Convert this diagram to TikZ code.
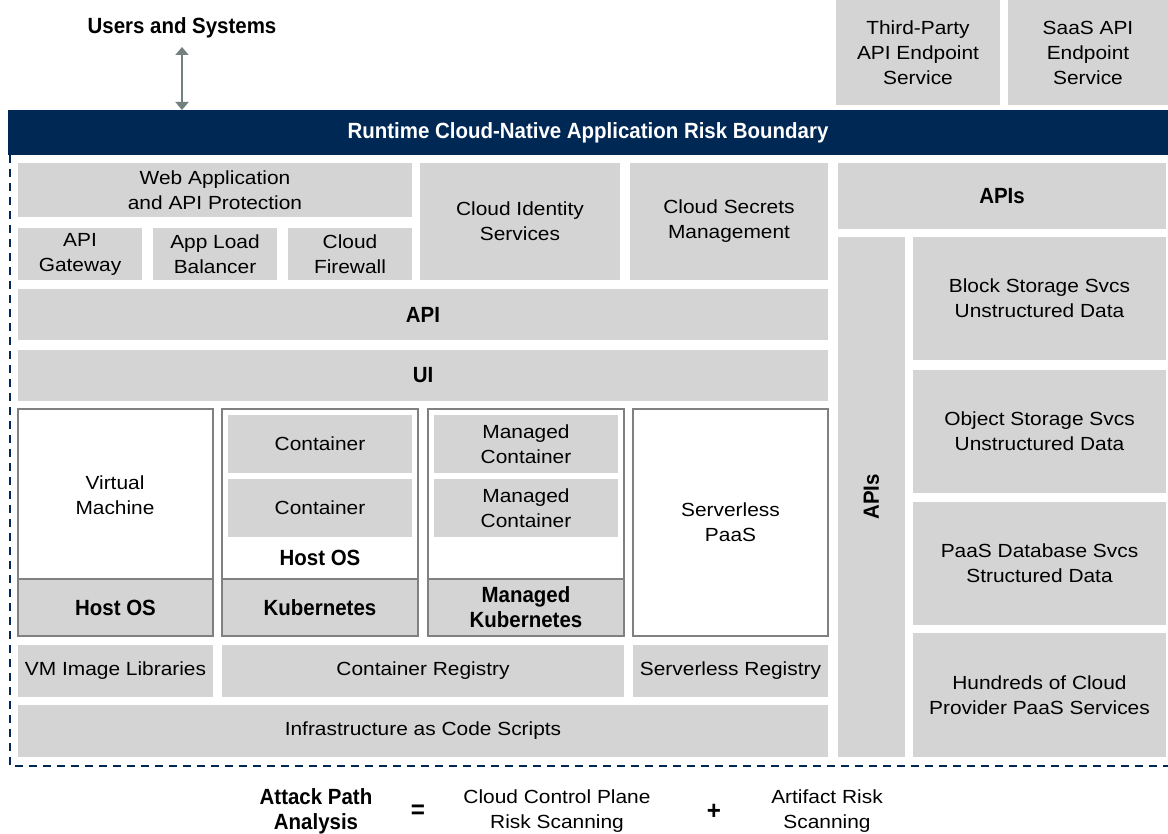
\documentclass[tikz,border=0pt]{standalone}
\usepackage{fontspec}
\setmainfont{Liberation Sans}[FakeStretch=1.1]
\newfontfamily\hvb{Liberation Sans Bold}[FakeStretch=0.93]
\usetikzlibrary{arrows.meta}
\definecolor{boxgray}{HTML}{D4D4D4}
\definecolor{navy}{HTML}{002855}
\definecolor{edgegray}{HTML}{808080}
\definecolor{arrowgray}{HTML}{748080}
\tikzset{
  box/.style={fill=boxgray,inner sep=0pt,outer sep=0pt,align=center,
    font=\fontsize{19}{25}\selectfont},
  framed/.style={draw=edgegray,line width=1.3pt},
  whitebox/.style={fill=white,draw=edgegray,line width=1.3pt},
  strong/.style={font=\hvb\fontsize{22}{25}\selectfont},
  plain/.style={inner sep=0pt,align=center,font=\fontsize{19}{25}\selectfont},
}
\newcommand\bx[7][]{\node[box,minimum width={#5-#3},minimum height={#6-#4},#1] (#2) at ({(#3+#5)/2},{(#4+#6)/2}) {#7};}
\begin{document}
\begin{tikzpicture}[x=1pt,y=-1pt]
\useasboundingbox[fill=white] (0,0) rectangle (1168,834);

% top
\node[plain,strong] (users) at (182,28) {Users and Systems};
\bx{third}{836}{0}{1000}{105}{Third-Party\\API Endpoint\\Service}
\bx{saas}{1008}{0}{1168}{105}{SaaS API\\Endpoint\\Service}

% header
\bx[fill=navy,text=white,strong]{hdr}{8}{110}{1168}{155}{Runtime Cloud-Native Application Risk Boundary}
\coordinate (arrtop) at (182,47);
\draw[arrowgray,line width=1.8pt,{Triangle[width=13pt,length=8pt]}-{Triangle[width=13pt,length=8pt]}]
  (arrtop) -- (arrtop |- hdr.north);

% boundary
\coordinate (bl) at (10,766);
\draw[navy,line width=2.4pt,dash pattern=on 8pt off 6pt]
  (hdr.south west -| bl) -- (bl) -- (bl -| hdr.east);

% upper left blocks
\bx{waap}{18}{163}{412}{217}{Web Application\\and API Protection}
\bx{gw}{18}{228}{142}{280}{API\\Gateway}
\bx{alb}{153}{228}{277}{280}{App Load\\Balancer}
\bx{fw}{288}{228}{412}{280}{Cloud\\Firewall}
\bx{ident}{420}{163}{620}{280}{Cloud Identity\\Services}
\bx{secr}{630}{163}{828}{280}{Cloud Secrets\\Management}
\bx[strong]{api}{18}{289}{828}{340}{API}
\bx[strong]{ui}{18}{350}{828}{401}{UI}

% VM group
\bx[whitebox]{vm}{18}{409}{213}{636}{}
\node[plain] (vmt) at (115,495) {Virtual\\Machine};
\bx[framed,strong]{vmhost}{18}{579}{213}{636}{Host OS}

% Kubernetes group
\bx[whitebox]{kg}{222}{409}{418}{636}{}
\bx{c1}{228}{415}{412}{473}{Container}
\bx{c2}{228}{479}{412}{537}{Container}
\node[plain,strong] (khost) at (320,558) {Host OS};
\bx[framed,strong]{kube}{222}{579}{418}{636}{Kubernetes}

% Managed group
\bx[whitebox]{mg}{428}{409}{624}{636}{}
\bx{mc1}{434}{415}{618}{473}{Managed\\Container}
\bx{mc2}{434}{479}{618}{537}{Managed\\Container}
\bx[framed,strong]{mkube}{428}{579}{624}{636}{Managed\\Kubernetes}

% Serverless
\bx[whitebox]{sls}{633}{409}{828}{636}{Serverless\\PaaS}

% registries
\bx{vmimg}{18}{645}{213}{697}{VM Image Libraries}
\bx{creg}{222}{645}{624}{697}{Container Registry}
\bx{sreg}{633}{645}{828}{697}{Serverless Registry}
\bx{iac}{18}{705}{828}{757}{Infrastructure as Code Scripts}

% right column
\bx[strong]{apis}{838}{163}{1166}{229}{APIs}
\bx{apisv}{838}{237}{905}{757}{}
\node[strong,rotate=90,inner sep=0pt] (apisvt) at (871.5,497) {APIs};
\bx{block}{913}{237}{1166}{360}{Block Storage Svcs\\Unstructured Data}
\bx{obj}{913}{370}{1166}{493}{Object Storage Svcs\\Unstructured Data}
\bx{paasdb}{913}{502}{1166}{625}{PaaS Database Svcs\\Structured Data}
\bx{hund}{913}{633}{1166}{757}{Hundreds of Cloud\\Provider PaaS Services}

% bottom formula
\node[plain,strong] (apa) at (316,811) {Attack Path\\Analysis};
\node[plain,strong,font=\hvb\fontsize{26}{26}\selectfont] (eq) at (418,812) {=};
\node[plain] (ccp) at (557,811) {Cloud Control Plane\\Risk Scanning};
\node[plain,strong,font=\hvb\fontsize{26}{26}\selectfont] (plus) at (714,812) {+};
\node[plain] (ars) at (827,811) {Artifact Risk\\Scanning};
\end{tikzpicture}
\end{document}
